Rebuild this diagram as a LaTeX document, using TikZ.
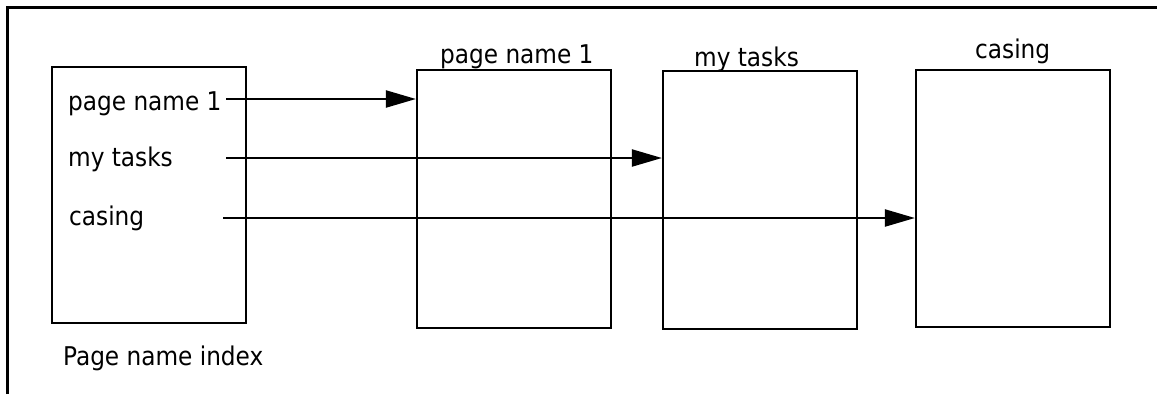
\documentclass[tikz,border=0pt]{standalone}
\usepackage{fontspec}
\setmainfont{DejaVu Sans Condensed}
\usetikzlibrary{arrows.meta}
\begin{document}
\begin{tikzpicture}[x=1pt,y=-1pt,
  pagebox/.style={draw,line width=2.2pt,inner sep=0pt,minimum width=194pt},
  lbl/.style={inner sep=0pt,anchor=base west,font=\fontsize{25.8}{30}\selectfont},
  link/.style={line width=2.2pt,-{Triangle[length=30pt,width=17pt]}}]
\useasboundingbox (0,0) rectangle (1157,394);
% frame
\draw[line width=3.5pt] (7.5,394) -- (7.5,7.5) -- (1157,7.5);
% boxes
\node[pagebox,minimum height=256pt] (idx) at (149,195) {};
\node[pagebox,minimum height=258pt] (b1) at (514,199) {};
\node[pagebox,minimum height=258pt] (b2) at (760,200) {};
\node[pagebox,minimum height=257pt] (b3) at (1013,198.5) {};
% labels above boxes
\node[lbl] (t1) at (440,63) {page name 1};
\node[lbl] (t2) at (694,66) {my tasks};
\node[lbl] (t3) at (975,58) {casing};
% index entries
\node[lbl] (i1) at (68,110) {page name 1};
\node[lbl] (i2) at (68,166) {my tasks};
\node[lbl] (i3) at (69,225) {casing};
\node[lbl] (cap) at (63,365) {Page name index};
% connectors
\coordinate (s1) at (226,99);
\coordinate (s2) at (226,158);
\coordinate (s3) at (223,218);
\draw[link] (s1) -- (s1 -| b1.west);
\draw[link] (s2) -- (s2 -| b2.west);
\draw[link] (s3) -- (s3 -| b3.west);
\end{tikzpicture}
\end{document}
